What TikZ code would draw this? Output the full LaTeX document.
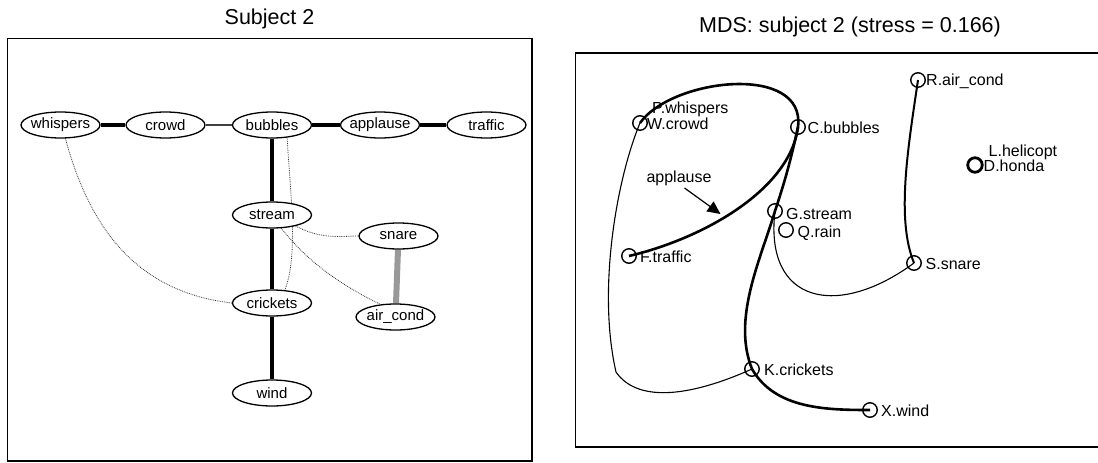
\documentclass[tikz,border=0pt]{standalone}
\usepackage{fontspec}
\setmainfont{Liberation Sans}
\usetikzlibrary{shapes.geometric,arrows.meta,backgrounds}
\tikzset{
  gnode/.style={draw, ellipse, line width=1.3pt, fill=white, inner sep=-6pt,
    minimum width=79pt, minimum height=26pt, font=\fontsize{15}{17}\selectfont},
  strong/.style={line width=3.6pt, black},
  medium/.style={line width=2pt, black!75},
  weak/.style={line width=0.8pt, black!80, densely dotted},
  band/.style={line width=6pt, black!40},
  pt/.style={draw, circle, line width=1.4pt, minimum size=14.5pt, inner sep=0pt},
  lab/.style={anchor=base west, inner sep=0pt, font=\fontsize{16}{18}\selectfont},
  thickc/.style={line width=2.6pt},
  thinc/.style={line width=1.1pt},
  frame/.style={line width=1.5pt},
  ttl/.style={anchor=base, inner sep=0pt, font=\fontsize{21.5}{24}\selectfont}
}
\begin{document}
\begin{tikzpicture}[x=1pt,y=-1pt]
\useasboundingbox (0,0) rectangle (1098,463);
% ---------- left panel ----------
\node[ttl] (t1) at (269.5,24) {Subject 2};
\draw[frame] (7.7,38.5) rectangle (532,461);
\node[gnode] (wh) at (60.5,125) {whispers};
\node[gnode] (cr) at (165.5,125) {crowd};
\node[gnode] (bu) at (272,125) {bubbles};
\node[gnode] (ap) at (380,125) {applause};
\node[gnode] (tr) at (486.5,125) {traffic};
\node[gnode] (st) at (272,215) {stream};
\node[gnode] (sn) at (398.5,236) {snare};
\node[gnode] (ck) at (272,303) {crickets};
\node[gnode] (ac) at (395.5,317) {air\_cond};
\node[gnode] (wi) at (272,393) {wind};
\begin{scope}[on background layer]
\draw[weak] (bu.-40) .. controls (291,200) and (298,255) .. (ck.45);
\draw[weak] (wh.-70) .. controls (90,230) and (138,292) .. (ck.west);
\draw[weak] (st.-25) .. controls (322,240) and (342,236) .. (sn.west);
\draw[weak] (st.-55) .. controls (300,252) and (328,279) .. (ac.140);
\draw[strong] (wh) -- (cr);
\draw[medium] (cr) -- (bu);
\draw[strong] (bu) -- (ap);
\draw[strong, line width=3.2pt] (ap) -- (tr);
\draw[strong] (bu) -- (st);
\draw[strong] (st) -- (ck);
\draw[strong] (ck) -- (wi);
\draw[band] (sn) -- (ac);
\end{scope}
% ---------- right panel ----------
\node[ttl] (t2) at (850,32) {MDS: subject 2 (stress = 0.166)};
\draw[frame] (575.7,53) rectangle (1102,447);
\node[pt] (pw) at (640,123) {};
\node[pt] (cb) at (798,127) {};
\node[pt] (ra) at (918,80) {};
\node[pt, line width=2.8pt] (dh) at (975,165) {};
\node[pt] (gs) at (775,211) {};
\node[pt] (qr) at (786,230) {};
\node[pt] (ft) at (629,256) {};
\node[pt] (ss) at (914,263) {};
\node[pt] (kc) at (752,369) {};
\node[pt] (xw) at (870,410) {};
\node[lab] (lpw) at (652,113) {P.whispers};
\node[lab] (lwc) at (647,129) {W.crowd};
\node[lab] (lcb) at (807.5,133) {C.bubbles};
\node[lab] (lra) at (926,85) {R.air\_cond};
\node[lab] (llh) at (988.5,156) {L.helicopt};
\node[lab] (ldh) at (983.5,171) {D.honda};
\node[lab] (lgs) at (786,219) {G.stream};
\node[lab] (lqr) at (797.5,237) {Q.rain};
\node[lab] (lft) at (640,262) {F.traffic};
\node[lab] (lss) at (925.5,269) {S.snare};
\node[lab] (lkc) at (764,375) {K.crickets};
\node[lab] (lxw) at (881,416) {X.wind};
\node[lab, anchor=base] (lap) at (679,182) {applause};
\coordinate (as) at (684.5,188);
\coordinate (at) at (720.5,214);
\draw[line width=1.2pt, -{Triangle[length=13pt,width=12pt]}] (as) -- (at);
% curves
\draw[thickc] (pw.center) .. controls (672,78) and (806,63) .. (cb.center)
  .. controls (790,189) and (705,238) .. (ft.center);
\draw[thinc] (pw.center) .. controls (617,178) and (597,289) .. (616,372)
  .. controls (636,401) and (685,399) .. (kc.center);
\draw[thickc] (cb.center) .. controls (790,164) and (783,187) .. (gs.center)
  .. controls (760,261) and (732,319) .. (kc.center)
  .. controls (775,409) and (826,410) .. (xw.center);
\draw[thinc] (gs.center) .. controls (764,304) and (838,319) .. (ss.center);
\draw[line width=2pt] (ra.center) .. controls (908,148) and (896,219) .. (ss.center);
\end{tikzpicture}
\end{document}
